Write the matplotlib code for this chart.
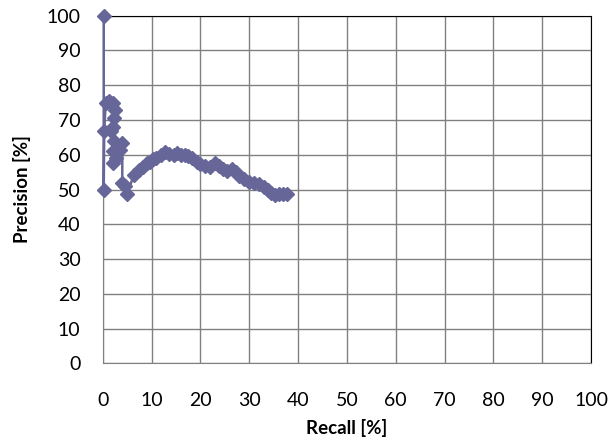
import matplotlib.pyplot as plt
import numpy as np

# precision / recall curve
recall = [0.2, 0.2, 0.3, 0.6, 1.2, 2.2, 2.6, 2.4, 2.0, 1.6, 2.4, 2.2, 2.0, 2.8, 3.6, 4.0,
          4.0, 4.6, 5.0, 6.4, 7.5, 8.3, 9.0, 9.6, 10.3, 11.0, 12.0, 12.8, 13.6, 14.5,
          15.2, 16.0, 16.8, 17.5, 18.3, 19.3, 20.0, 21.0, 22.0, 23.0, 23.8, 24.6,
          25.5, 26.5, 27.3, 28.0, 29.0, 30.0, 31.0, 32.0, 33.0, 33.8, 34.5, 35.3,
          36.2, 37.0, 37.8]
precision = [100, 50, 66.7, 75, 75.5, 75, 73, 70.5, 68, 66.7, 64, 61, 57.5, 59, 61.5, 63.5,
             52, 51, 48.8, 54.3, 55.5, 56.5, 57.5, 58, 58.7, 59.2, 60, 60.8, 60.2, 60,
             60.5, 59.8, 60, 59.5, 59, 58, 57.3, 56.8, 56.5, 57.5, 56.8, 56, 55.2,
             55.8, 55, 54, 53, 52.3, 51.8, 51.5, 50.8, 50, 49, 48.3, 48.6, 48.8, 48.7]

xticks = np.arange(0, 101, 10)
yticks = np.arange(0, 101, 10)

plt.rcParams['font.family'] = ['Lato', 'DejaVu Sans']

fig = plt.figure(figsize=(6.08, 4.46), dpi=100)
ax = fig.add_axes([0.169, 0.1854, 0.803, 0.7794])

ax.plot(recall, precision, color='#666699', linewidth=1.8, marker='D',
        markersize=7, markerfacecolor='#666699', markeredgecolor='#666699',
        clip_on=False, zorder=3)

ax.set_xlim(0, 100)
ax.set_ylim(0, 100)
ax.set_xticks(xticks)
ax.set_yticks(yticks)
ax.grid(True, color='#808080', linewidth=1.0)
ax.set_axisbelow(True)
ax.tick_params(length=0, labelsize=14, colors='black')
ax.tick_params(axis='x', pad=21)
ax.tick_params(axis='y', pad=16)

for side in ['left', 'bottom']:
    ax.spines[side].set_color('#808080')
for side in ['top', 'right']:
    ax.spines[side].set_color('black')

ax.set_xlabel('Recall [%]', fontsize=13.5, fontweight='bold', labelpad=7)
ax.set_ylabel('Precision [%]', fontsize=13.5, fontweight='bold', labelpad=11)

fig.savefig('out.png', dpi=100)
